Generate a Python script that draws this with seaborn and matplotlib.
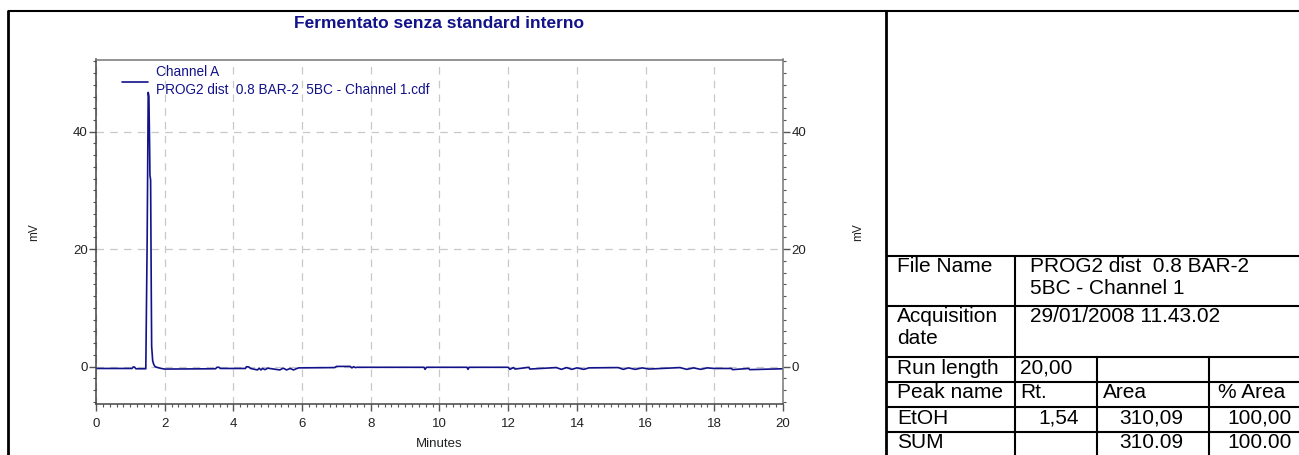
import numpy as np
import pandas as pd
import matplotlib
matplotlib.use("Agg")
import matplotlib.pyplot as plt
from matplotlib.ticker import MultipleLocator
import seaborn as sns

# chromatogram trace (minutes, mV)
time_min = [
    0.00, 1.05, 1.08, 1.12, 1.16, 1.45, 1.49, 1.52, 1.54, 1.56,
    1.57, 1.59, 1.61, 1.62, 1.65, 1.68, 1.72, 1.80, 1.90, 2.00,
    3.48, 3.52, 3.58, 3.62, 4.35, 4.38, 4.45, 4.50, 4.70, 4.75,
    4.80, 4.85, 4.92, 5.00, 5.35, 5.45, 5.55, 5.65, 5.75, 5.85,
    5.90, 6.95, 7.00, 7.40, 7.45, 7.50, 7.55, 7.60, 9.55, 9.58,
    9.62, 10.80, 10.83, 10.86, 12.00, 12.05, 12.15, 12.20, 12.60, 12.63,
    13.40, 13.55, 13.70, 13.85, 14.00, 14.20, 14.35, 15.20, 15.35, 15.50,
    15.70, 15.90, 16.10, 17.00, 17.20, 17.40, 17.60, 17.80, 18.00, 18.50,
    18.53, 19.00, 19.03, 20.00]
signal_mv = [
    -0.30, -0.30, -0.05, -0.05, -0.35, -0.35, 22.0, 46.7, 46.0, 38.0,
    32.6, 31.8, 12.0, 3.5, 1.0, 0.4, 0.0, -0.15, -0.30, -0.40,
    -0.35, -0.10, -0.10, -0.30, -0.30, 0.00, -0.05, -0.30, -0.55, -0.25,
    -0.55, -0.30, -0.50, -0.25, -0.55, -0.25, -0.55, -0.30, -0.55, -0.30,
    -0.20, -0.15, 0.05, 0.05, -0.20, 0.00, -0.15, -0.10, -0.10, -0.45,
    -0.10, -0.10, -0.45, -0.10, -0.10, -0.45, -0.15, -0.40, -0.10, -0.40,
    -0.15, -0.45, -0.15, -0.45, -0.20, -0.45, -0.20, -0.15, -0.45, -0.20,
    -0.45, -0.20, -0.40, -0.15, -0.45, -0.20, -0.45, -0.20, -0.30, -0.30,
    -0.50, -0.30, -0.50, -0.35]

x_ticks = [0, 2, 4, 6, 8, 10, 12, 14, 16, 18, 20]
y_ticks = [0, 20, 40]

title = "Fermentato senza standard interno"
legend_label = "Channel A\nPROG2 dist  0.8 BAR-2  5BC - Channel 1.cdf"

# report table
row_labels = ["File Name", "Acquisition\ndate", "Run length", "Peak name", "EtOH", "SUM"]
file_name = "PROG2 dist  0.8 BAR-2\n5BC - Channel 1"
acq_date = "29/01/2008 11.43.02"
run_length = "20,00"
peak_header = ["Rt.", "Area", "% Area"]
peak_row = ["1,54", "310,09", "100,00"]
sum_row = ["", "310.09", "100.00"]

NAVY = "#12128a"

sns.set_theme(style="white")
plt.rcParams["font.family"] = ["Liberation Sans", "DejaVu Sans"]

W, H = 1299, 455
fig = plt.figure(figsize=(W / 100, H / 100), dpi=100)

# page layer in pixel coordinates for the frame and the table
page = fig.add_axes([0, 0, 1, 1])
page.set_xlim(0, W); page.set_ylim(H, 0); page.axis("off")
page.patch.set_alpha(0)
blk = dict(color="black", lw=1.5, solid_capstyle="butt")
page.plot([8, 8], [10, H], **dict(blk, lw=2.0))
page.plot([8, W], [10.5, 10.5], **blk)
page.plot([886, 886], [10, H], **dict(blk, lw=2.0))

cols = [886, 1015, 1097, 1209, W]
rows = [256, 306, 357, 382, 407, 432, 458]
for y in rows[:-1]:
    page.plot([cols[0], cols[-1]], [y, y], **blk)
page.plot([cols[1], cols[1]], [rows[0], H], **blk)
for c in cols[2:4]:
    page.plot([c, c], [rows[2], H], **blk)

tfs = 15
tkw = dict(fontsize=tfs, color="black", va="top", linespacing=1.2)
for lab, y in zip(row_labels, rows[:-1]):
    page.text(897, y + 1.5, lab, **tkw)
page.text(1030, rows[0] + 1.5, file_name, **tkw)
page.text(1030, rows[1] + 1.5, acq_date, **tkw)
page.text(1020, rows[2] + 1.5, run_length, **tkw)
page.text(1020, rows[3] + 1.5, peak_header[0], **tkw)
page.text(1103, rows[3] + 1.5, peak_header[1], **tkw)
page.text(1218, rows[3] + 1.5, peak_header[2], **tkw)
for vals, y in [(peak_row, rows[4]), (sum_row, rows[5])]:
    for v, xr in zip(vals, [1079, 1183, 1292]):
        page.text(xr, y + 1.5, v, ha="right", **tkw)

# chromatogram
ax = fig.add_axes([96 / W, (H - 404) / H, 687 / W, 344.5 / H])
sns.lineplot(x=time_min, y=signal_mv, ax=ax, color=NAVY, lw=1.2,
             estimator=None, label=legend_label)
ax.set_xlim(0, 20)
ax.set_ylim(-6.35, 52.3)
ax.set_xticks(x_ticks)
ax.set_yticks(y_ticks)
ax.xaxis.set_minor_locator(MultipleLocator(0.2))
ax.yaxis.set_minor_locator(MultipleLocator(2))
ax.tick_params(which="both", direction="out", colors="#555555", labelcolor="#222222",
               left=True, right=True, bottom=True, top=False, labelright=True,
               labelsize=9.5)
ax.tick_params(which="major", length=5, width=1, pad=1.0)
ax.tick_params(axis="x", which="major", pad=5)
ax.tick_params(which="minor", length=2.5, width=0.8)
ax.grid(True, which="major", color="#c8c8c8", ls=(0, (6, 5)), lw=0.9)
ax.set_axisbelow(True)
for s in ["left", "bottom"]:
    ax.spines[s].set_color("#444444")
for s in ["top", "right"]:
    ax.spines[s].set_color("#777777")
for s in ax.spines.values():
    s.set_linewidth(1.1)

ax.set_xlabel("Minutes", fontsize=9.5, color="#222222", labelpad=6)
ax.set_ylabel("mV", fontsize=8.5, color="#222222")
ax.yaxis.set_label_coords((40 - 96) / 687, 0.5)
ax.text((858 - 96) / 687, 0.5, "mV", rotation=90, fontsize=8.5, color="#222222",
        ha="center", va="center", transform=ax.transAxes)
ax.text(0.5, 1 + (59.5 - 23) / 344.5, title, transform=ax.transAxes,
        ha="center", va="center", fontsize=12.5, fontweight="bold", color=NAVY)

leg = ax.legend(loc="upper left", bbox_to_anchor=(26 / 687, 0.983), frameon=False,
                fontsize=9.8, labelcolor=NAVY, handlelength=1.9, handletextpad=0.6,
                borderpad=0, borderaxespad=0)
for t in leg.get_texts():
    t.set_linespacing(1.3)

fig.savefig("out.png", dpi=100)
